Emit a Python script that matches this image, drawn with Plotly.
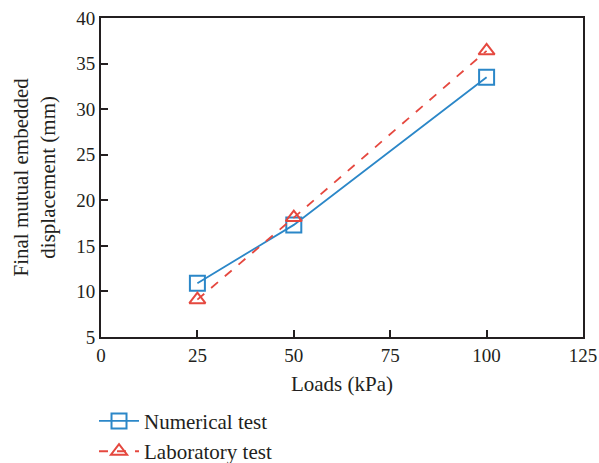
import plotly.graph_objects as go

loads = [25, 50, 100]
numerical = [10.9, 17.3, 33.5]
laboratory = [9.1, 18.1, 36.4]
x_ticks = [0, 25, 50, 75, 100, 125]
y_ticks = [5, 10, 15, 20, 25, 30, 35, 40]

BLUE = "#2b87c8"
RED = "#e5483f"
AX = "#231f20"
FONT = "Liberation Serif"

fig = go.Figure()
fig.add_trace(go.Scatter(
    x=loads, y=numerical, name="Numerical test", mode="lines+markers",
    line=dict(color=BLUE, width=1.8),
    marker=dict(symbol="square-open", size=15, color=BLUE, line=dict(width=2)),
))
fig.add_trace(go.Scatter(
    x=loads, y=laboratory, name="Laboratory test", mode="lines+markers",
    line=dict(color=RED, width=1.8, dash="dash"),
    marker=dict(symbol="triangle-up-open", size=14, color=RED, line=dict(width=2)),
))

axis_common = dict(
    showgrid=False, zeroline=False, showline=True, linecolor=AX, linewidth=2,
    mirror=True, ticks="inside", ticklen=7, tickwidth=1.5, tickcolor=AX,
    tickfont=dict(family=FONT, size=19, color=AX), automargin=False,
    ticklabeloverflow="allow",
)
fig.update_xaxes(range=[0, 125], tickvals=x_ticks, **axis_common,
                 title=dict(text="Loads (kPa)", font=dict(family=FONT, size=21, color=AX), standoff=12))
fig.update_yaxes(range=[5, 40], tickvals=y_ticks, **axis_common)

fig.add_annotation(
    text="Final mutual embedded<br>displacement (mm)", textangle=-90,
    xref="paper", yref="paper", x=0, y=0.5, xanchor="center", yanchor="middle",
    xshift=-67, showarrow=False, font=dict(family=FONT, size=21, color=AX),
)

fig.update_layout(
    width=599, height=463,
    margin=dict(l=101, r=16, t=18, b=126, autoexpand=False),
    paper_bgcolor="white", plot_bgcolor="white",
    font=dict(family=FONT, color=AX),
    legend=dict(x=-0.0145, y=-0.2, xanchor="left", yanchor="top",
                font=dict(family=FONT, size=21, color=AX),
                tracegroupgap=0, itemwidth=40,
                bgcolor="rgba(0,0,0,0)"),
    showlegend=True,
)

fig.write_html(
    "out.html",
    config={"displayModeBar": False},
    post_script="document.body.style.margin='0';document.body.style.overflow='hidden';",
)
